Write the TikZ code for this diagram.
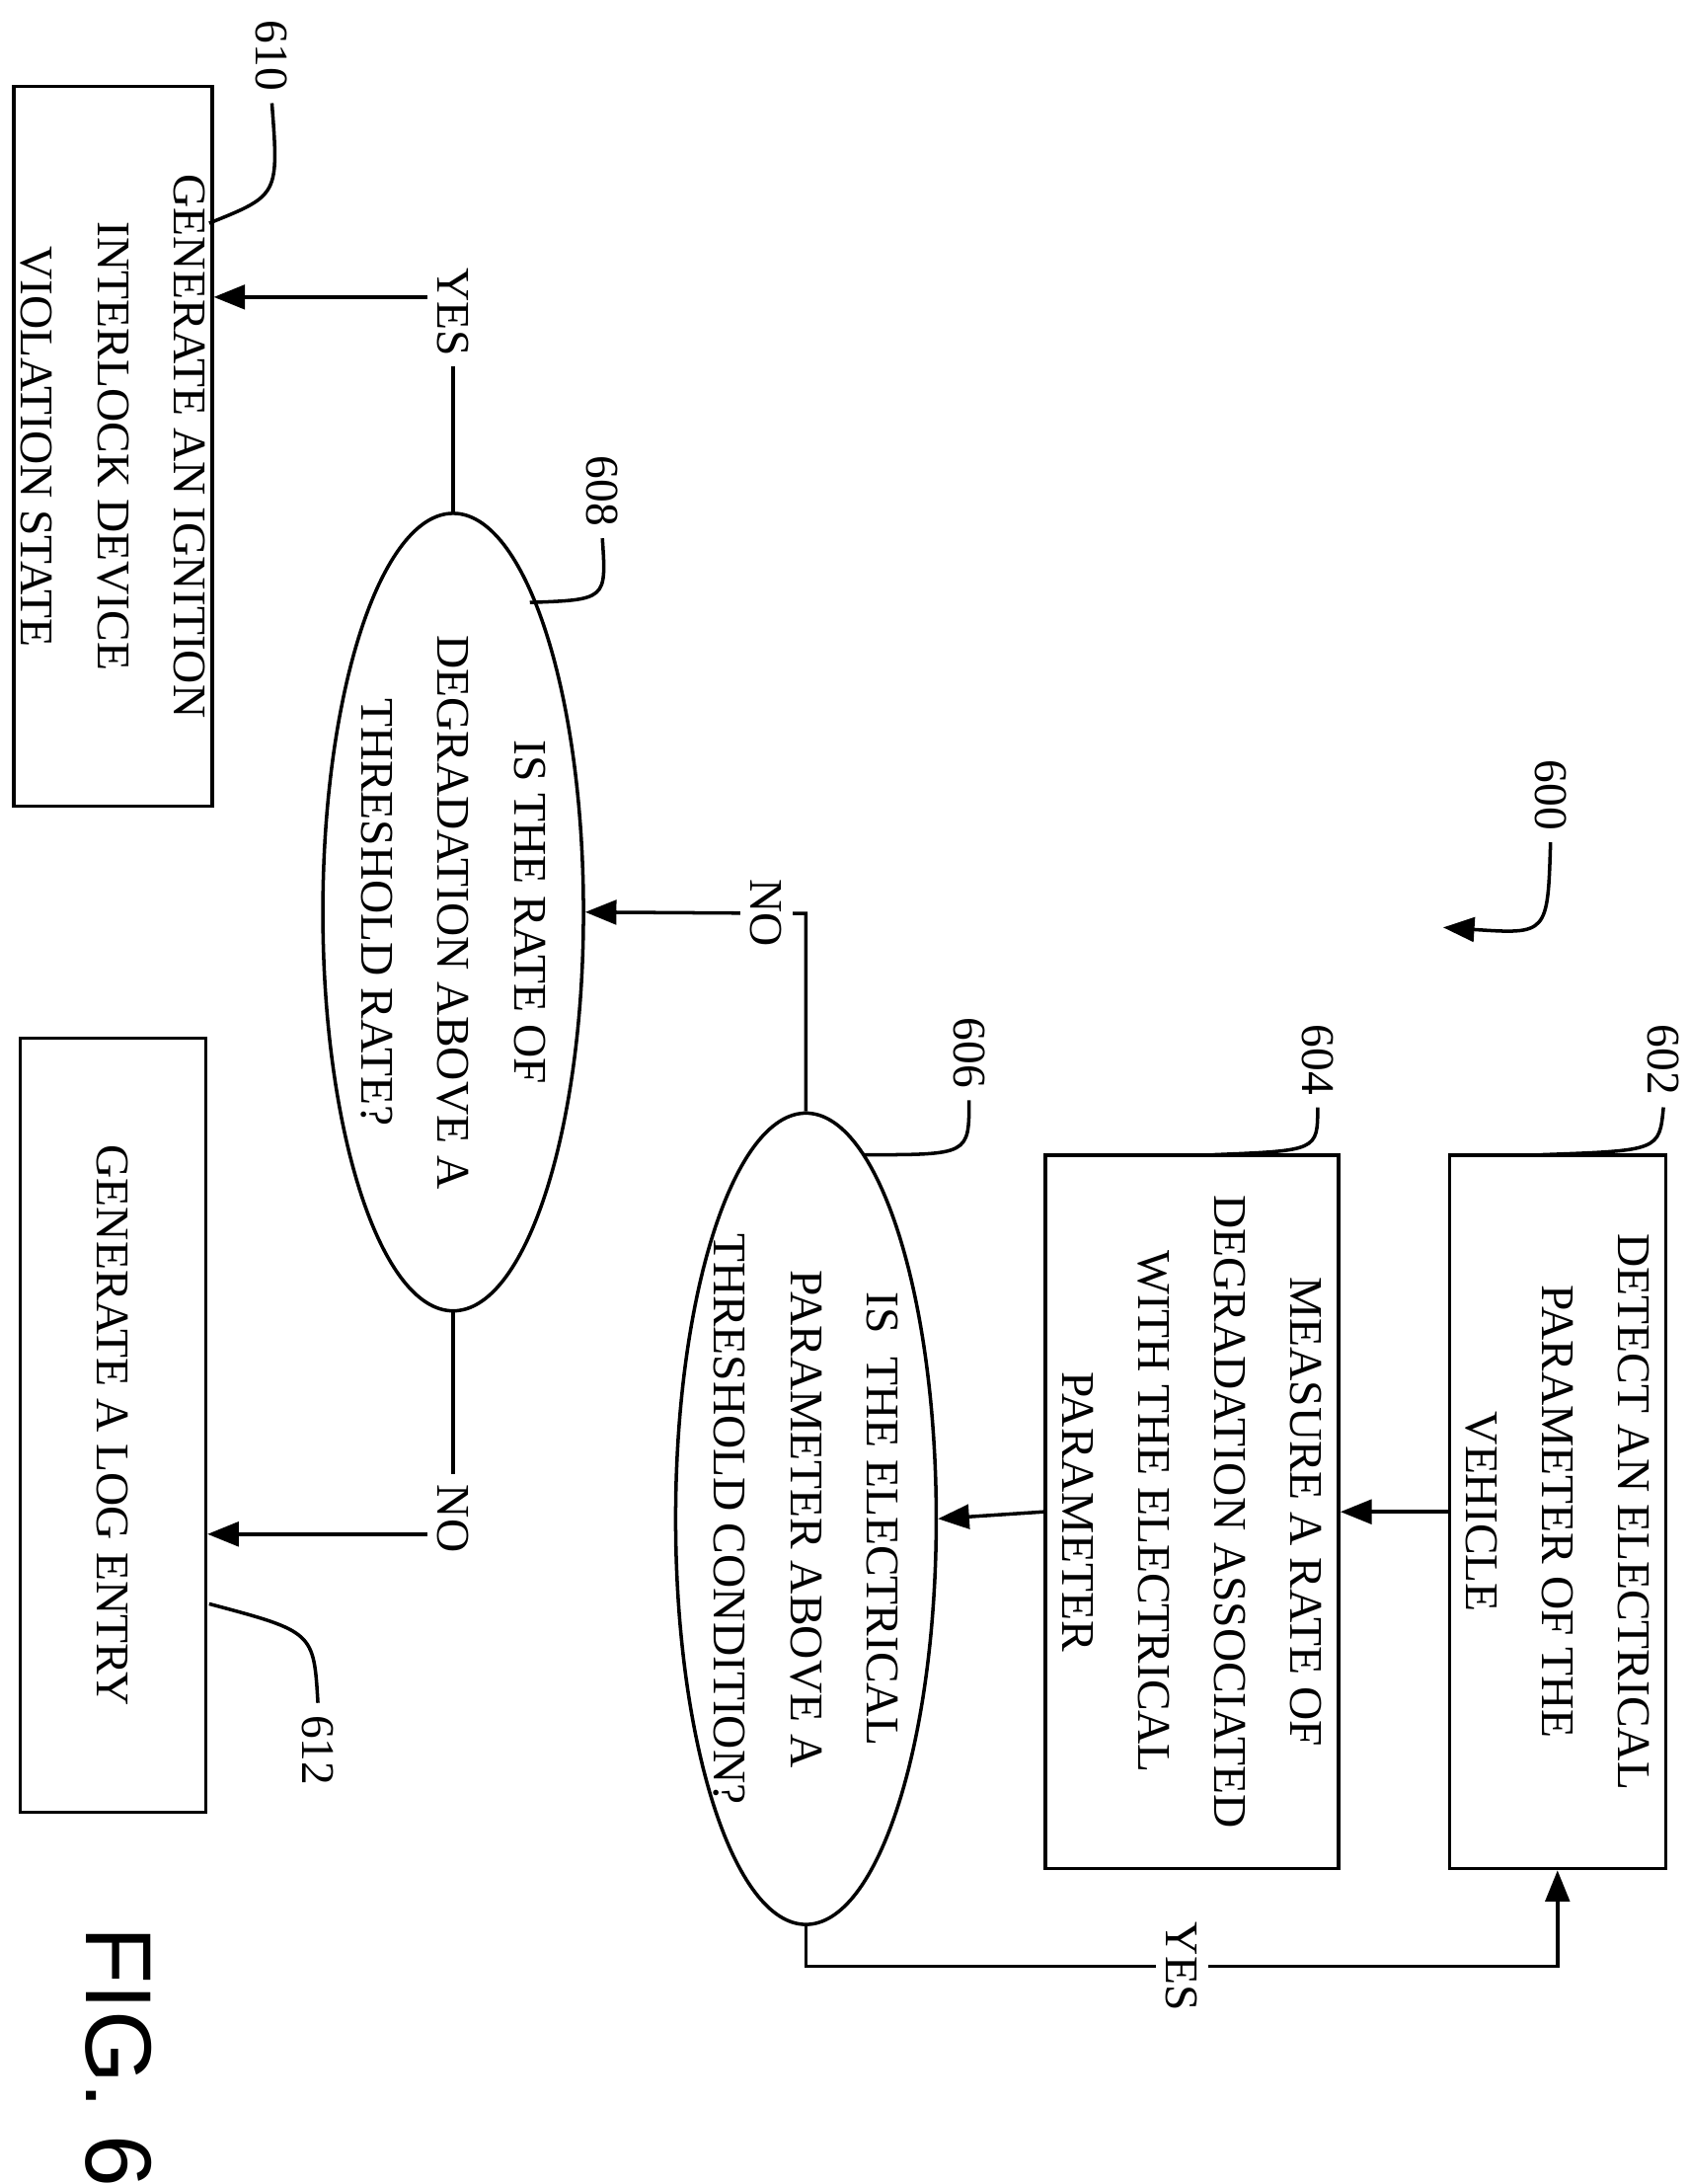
\documentclass[tikz,border=0pt]{standalone}
\usepackage{fontspec}
\setmainfont{Liberation Serif}
\setsansfont{Liberation Sans}
\usetikzlibrary{positioning,shapes.geometric,arrows.meta}
\begin{document}
\begin{tikzpicture}[x=0.01413cm,y=-0.01413cm,
box/.style={draw,rectangle,line width=1pt,rotate=-90,align=center,inner sep=2pt,
  font=\fontsize{13.5}{22}\selectfont},
dec/.style={draw,ellipse,line width=1pt,rotate=-90,align=center,inner sep=0pt,
  font=\fontsize{13.5}{22}\selectfont},
flow/.style={line width=1pt,-{Triangle[length=9pt,width=7pt]}},
tag/.style={rotate=-90,font=\fontsize{13.5}{16}\selectfont},
lbl/.style={rotate=-90,fill=white,inner sep=3pt,font=\fontsize{13.5}{16}\selectfont},
lead/.style={line width=1pt}]
\useasboundingbox (0,0) rectangle (1211,1566);
% process boxes and decisions
\node (n602) [box,minimum width=7.23cm,minimum height=2.19cm] at (1117,1084)
  {DETECT AN ELECTRICAL\\PARAMETER OF THE\\VEHICLE};
\node (n604) [box,minimum width=7.23cm,minimum height=2.97cm] at (855,1084)
  {MEASURE A RATE OF\\DEGRADATION ASSOCIATED\\WITH THE ELECTRICAL\\PARAMETER};
\node (n606) [dec,minimum width=8.22cm,minimum height=2.59cm] at (578,1089)
  {IS\ \ THE ELECTRICAL\\PARAMETER ABOVE A\\THRESHOLD CONDITION?};
\node (n608) [dec,minimum width=8.08cm,minimum height=2.40cm] at (325,654)
  {IS THE RATE OF\\DEGRADATION ABOVE A\\THRESHOLD RATE?};
\node (n610) [box,minimum width=7.29cm,minimum height=1.88cm] at (81,320)
  {GENERATE AN IGNITION\\INTERLOCK DEVICE\\VIOLATION STATE};
\node (n612) [box,minimum width=7.84cm,minimum height=1.88cm] at (81,1022)
  {GENERATE A LOG ENTRY};
% connectors
\coordinate (toNo) at (578,655);
\coordinate (toYes) at (325,213);
\coordinate (toLog) at (325,1100);
\coordinate (back) at (578,1410);
\draw[flow] (n602.south) -- (n604.north);
\draw[flow] (n604.south) -- (n606.north);
\draw[flow] (n606.west) -- (toNo) -- node[lbl,pos=0.18]{NO} (n608.north);
\draw[flow] (n608.west) -- node[lbl,pos=0.93]{YES} (toYes) -- (toYes -| n610.north);
\draw[flow] (n608.east) -- node[lbl,pos=0.93]{NO} (toLog) -- (toLog -| n612.north);
\draw[flow] (n606.east) -- (back) -- node[lbl]{YES} (back -| n602.east) -- (n602.east);
% reference numerals
\node (l602) [tag] at (1193,760) {602};
\node (l604) [tag] at (945,760) {604};
\node (l606) [tag] at (695,755) {606};
\node (l608) [tag] at (432,352) {608};
\node (l610) [tag] at (195,40) {610};
\node (l612) [tag] at (228,1255) {612};
\node (l600) [tag] at (1112,570) {600};
\draw[lead] (l602.east) .. controls (1190,825) .. (1105,828);
\draw[lead] (l604.east) .. controls (945,825) .. (870,828);
\draw[lead] (l606.east) .. controls (695,828) .. (620,828);
\draw[lead] (l608.east) .. controls (435,430) .. (380,432);
\draw[lead] (l610.east) .. controls (200,140) .. (150,160);
\draw[lead] (l612.west) .. controls (225,1170) .. (150,1150);
\draw[lead,-{Triangle[length=9pt,width=7pt]}] (l600.east) .. controls (1110,670) .. (1035,665);
\node (fig) [rotate=-90,font=\fontsize{27}{27}\sffamily] at (85,1475) {FIG. 6};
\end{tikzpicture}
\end{document}
